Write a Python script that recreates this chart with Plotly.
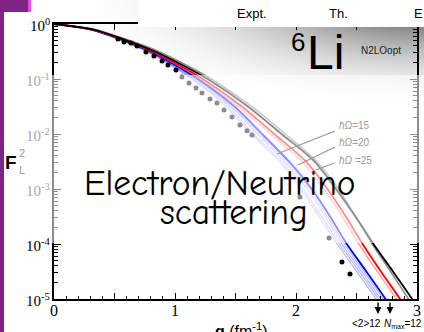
import base64, struct, zlib, math
import plotly.graph_objects as go

# ---------------- data ----------------
F_LEVELS = [1.0, 0.8, 0.56, 0.32, 0.18, 0.1, 0.032, 0.01, 0.0032, 0.001,
            0.00032, 0.0001, 0.000032, 0.00001, 0.000005]
Q_GRAY = [0, 0.33, 0.56, 0.86, 1.09, 1.30, 1.63, 1.91, 2.17, 2.35, 2.49, 2.63, 2.78, 2.93, 3.02]
Q_BLACK = [0, 0.32, 0.54, 0.83, 1.06, 1.27, 1.60, 1.88, 2.15, 2.33, 2.49, 2.64, 2.80, 2.96, 3.05]
Q_RED_LIGHT = [0, 0.30, 0.52, 0.80, 1.01, 1.21, 1.52, 1.79, 2.05, 2.23, 2.38, 2.52, 2.67, 2.83, 2.92]
Q_RED = [0, 0.31, 0.53, 0.81, 1.03, 1.23, 1.55, 1.82, 2.08, 2.26, 2.41, 2.55, 2.70, 2.86, 2.95]
Q_BLUE_LIGHT = [
    [0, 0.29, 0.50, 0.76, 0.96, 1.14, 1.42, 1.63, 1.86, 2.04, 2.19, 2.34, 2.50, 2.66, 2.75],
    [0, 0.29, 0.51, 0.77, 0.97, 1.15, 1.44, 1.65, 1.88, 2.06, 2.21, 2.36, 2.52, 2.68, 2.77],
    [0, 0.30, 0.51, 0.78, 0.98, 1.17, 1.46, 1.68, 1.90, 2.09, 2.24, 2.38, 2.54, 2.70, 2.79],
    [0, 0.30, 0.52, 0.78, 0.99, 1.18, 1.47, 1.70, 1.92, 2.11, 2.26, 2.40, 2.56, 2.72, 2.81],
]
Q_BLUE = [0, 0.30, 0.52, 0.79, 1.00, 1.19, 1.49, 1.72, 1.94, 2.13, 2.28, 2.42, 2.58, 2.74, 2.83]

EXPT_Q = [0.529, 0.579, 0.636, 0.686, 0.760, 0.826, 0.893, 0.942, 1.008, 1.058,
          1.116, 1.174, 1.223, 1.289, 1.347, 1.405, 1.471, 1.537, 1.595, 1.636,
          2.033, 2.273, 2.380, 2.446]
EXPT_F = [0.533, 0.471, 0.452, 0.398, 0.310, 0.262, 0.212, 0.180, 0.146, 0.109,
          0.0845, 0.0685, 0.0556, 0.0433, 0.0366, 0.0273, 0.0204, 0.0146, 0.0114, 0.0096,
          7.16e-4, 1.29e-4, 4.71e-5, 2.85e-5]

X_TICKS = [0, 0.5, 1, 1.5, 2, 2.5, 3]
X_TICK_TEXT = ["0", "", "1", "", "2", "", "3"]
Y_TICK_EXP = [0, -1, -2, -3, -4, -5]

# ---------------- geometry helpers (pixel -> paper) ----------------
W, H = 424, 332
L, R, T, B = 54, 417, 24, 299


def px(x):
    return (x - L) / (R - L)


def py(y):
    return (B - y) / (B - T)


# ---------------- gradient image ----------------
def gradient_png(w, h, x0, y0):
    rows = []
    for j in range(h):
        row = bytearray([0])
        for i in range(w):
            X = x0 + i
            Y = y0 + j
            d = math.sqrt(((424 - X) / 360.0) ** 2 + ((Y - 0) / 115.0) ** 2)
            t = max(0.0, 1.0 - d)
            g = int(round(255 - 205 * t * t))
            row += bytes([g, g, g])
        rows.append(bytes(row))
    raw = b"".join(rows)

    def chunk(tag, data):
        c = struct.pack(">I", len(data)) + tag + data
        return c + struct.pack(">I", zlib.crc32(tag + data) & 0xffffffff)

    png = b"\x89PNG\r\n\x1a\n"
    png += chunk(b"IHDR", struct.pack(">IIBBBBB", w, h, 8, 2, 0, 0, 0))
    png += chunk(b"IDAT", zlib.compress(raw, 9))
    png += chunk(b"IEND", b"")
    return "data:image/png;base64," + base64.b64encode(png).decode()


fig = go.Figure()


def add_line(qs, color, width):
    fig.add_trace(go.Scatter(x=qs, y=F_LEVELS, mode="lines",
                             line=dict(color=color, width=width, shape="spline", smoothing=0.8),
                             hoverinfo="skip", showlegend=False))


add_line(Q_GRAY, "#8a8a8a", 1.6)
for qs in Q_BLUE_LIGHT:
    add_line(qs, "rgba(90,90,255,0.45)", 1.2)
add_line(Q_BLUE, "#0000ff", 1.8)
add_line(Q_RED_LIGHT, "rgba(255,60,60,0.5)", 1.4)
add_line(Q_RED, "#ff0000", 1.8)
add_line(Q_BLACK, "#000000", 1.8)

fig.add_trace(go.Scatter(x=EXPT_Q, y=EXPT_F, mode="markers",
                         marker=dict(color="black", size=5), hoverinfo="skip", showlegend=False))
# dummy for top axis
fig.add_trace(go.Scatter(x=[0, 3], y=[1, 1], xaxis="x2", mode="lines",
                         line=dict(width=0), hoverinfo="skip", showlegend=False))

axis_font = dict(family="Liberation Serif, Times New Roman, serif", size=16, color="black")
fig.update_layout(
    width=W, height=H,
    margin=dict(l=L, r=W - R, t=T, b=H - B, autoexpand=False),
    paper_bgcolor="white", plot_bgcolor="rgba(0,0,0,0)",
    showlegend=False,
    xaxis=dict(range=[0, 3], tickmode="array", tickvals=X_TICKS, ticktext=X_TICK_TEXT,
               ticks="inside", ticklen=6, tickwidth=1.2, tickcolor="black", ticklabelstandoff=-4,
               minor=dict(tick0=0, dtick=0.1, ticks="inside", ticklen=3, tickcolor="black", tickwidth=1),
               showline=True, linecolor="black", linewidth=2, showgrid=False, zeroline=False,
               tickfont=axis_font, mirror=True),
    xaxis2=dict(range=[0, 3], overlaying="x", side="top", dtick=0.5, tick0=0,
                ticks="inside", ticklen=6, tickcolor="black", showticklabels=False,
                showgrid=False, zeroline=False, showline=False),
    yaxis=dict(type="log", range=[-5, 0], dtick=1, ticks="inside", ticklen=7, tickwidth=1.2,
               tickcolor="black", showticklabels=False,
               minor=dict(dtick="D1", ticks="inside", ticklen=4, tickcolor="black", tickwidth=1),
               showline=True, linecolor="black", linewidth=2, mirror="ticks",
               showgrid=False, zeroline=False),
)

# gradient backdrop (below traces)
GX0, GY0, GW, GH = 90, 0, 334, 115
fig.add_layout_image(dict(source=gradient_png(GW, GH, GX0, GY0), xref="paper", yref="paper",
                          x=px(GX0), y=py(GY0), sizex=(GW) / (R - L), sizey=GH / (B - T),
                          xanchor="left", yanchor="top", sizing="stretch", layer="below"))

shapes = []
# white translucent overlay band
shapes.append(dict(type="rect", xref="paper", yref="paper", x0=px(4), x1=px(424), y0=py(243), y1=py(75),
                   fillcolor="white", opacity=0.55, line=dict(width=0), layer="above"))
# white header box
shapes.append(dict(type="rect", xref="paper", yref="paper", x0=px(138), x1=px(425), y0=py(27), y1=py(-1),
                   fillcolor="white", line=dict(width=0), layer="above"))
# purple decorations
PURPLE = "#7f2387"
shapes.append(dict(type="rect", xref="paper", yref="paper", x0=px(-1), x1=px(4), y0=py(333), y1=py(-1),
                   fillcolor=PURPLE, line=dict(width=0), layer="above"))
shapes.append(dict(type="rect", xref="paper", yref="paper", x0=px(-1), x1=px(28), y0=py(12), y1=py(-1),
                   fillcolor=PURPLE, line=dict(width=0), layer="above"))
shapes.append(dict(type="rect", xref="paper", yref="paper", x0=px(28), x1=px(31), y0=py(12), y1=py(-1),
                   fillcolor="#e04ee8", line=dict(width=0), layer="above"))
# hbar-omega pointer lines
for (x0, y0, x1, y1) in [(335, 131, 277, 154), (335, 147, 298, 165), (334, 163, 316, 170)]:
    shapes.append(dict(type="line", xref="paper", yref="paper", x0=px(x0), y0=py(y0), x1=px(x1), y1=py(y1),
                       line=dict(color="#9a9a9a", width=1.3), layer="above"))
fig.update_layout(shapes=shapes)

ann = []


def text(x, y, s, size, color="black", family="Liberation Sans, Arial, sans-serif", xanchor="center",
         yanchor="middle"):
    ann.append(dict(x=px(x), y=py(y), xref="paper", yref="paper", text=s, showarrow=False,
                    font=dict(size=size, color=color, family=family), xanchor=xanchor, yanchor=yanchor))


serif = "Liberation Serif, Times New Roman, serif"
narrow = "Liberation Sans Narrow, Liberation Sans, Arial, sans-serif"
for e in Y_TICK_EXP:
    ypix = B - (e + 5) * (B - T) / 5.0
    col = "#a8a8a8" if e in (-1, -2, -3) else "black"
    text(52, ypix + 1, "10<sup>%d</sup>" % e, 15, col, serif, xanchor="right")

text(252, 14, "Expt.", 13, "black", narrow)
text(338, 14, "Th.", 13, "black", narrow)
text(425, 14, "E", 13, "black", narrow, xanchor="right")
text(298, 42, "6", 26, "black", narrow)
text(325, 52, "Li", 48, "black", narrow)
text(381, 50, "N2LOopt", 10, "#222222", narrow)
text(337, 125, "<i>ħΩ</i>=15", 10, "#9a9a9a", narrow, xanchor="left")
text(337, 142, "<i>ħΩ</i>=20", 10, "#9a9a9a", narrow, xanchor="left")
text(337, 160, "<i>ħΩ</i> =25", 10, "#9a9a9a", narrow, xanchor="left")
comic = "Comic Neue, Comic Sans MS, DejaVu Sans, sans-serif"
text(220, 183, "Electron/Neutrino", 35.5, "black", comic)
text(234, 212, "scattering", 35.5, "black", comic)
text(11, 162, "<b>F</b>", 19, "black", "Liberation Sans, Arial, sans-serif")
text(22, 153, "2", 11, "#9a9a9a", "Liberation Sans, Arial, sans-serif")
text(22, 170, "L", 11, "#9a9a9a", "Liberation Sans, Arial, sans-serif")
text(241, 330, "<b>q</b> (fm<sup>-1</sup>)", 16, "black", "Liberation Sans, Arial, sans-serif")
text(366, 323, "&lt;2&gt;12", 10, "black", narrow)
text(424, 324, "<i>N</i><sub>max</sub>=12", 10, "black", narrow, xanchor="right")

# down arrows
for xq in [378, 390]:
    ann.append(dict(x=px(xq), y=py(314), xref="paper", yref="paper", ax=0, ay=-13, axref="pixel",
                    ayref="pixel", text="", showarrow=True, arrowhead=2, arrowsize=1, arrowwidth=1.4,
                    arrowcolor="black"))

fig.update_layout(annotations=ann)
fig.write_html("out.html", config={"displayModeBar": False},
               post_script="document.body.style.margin='0';document.body.style.padding='0';")
